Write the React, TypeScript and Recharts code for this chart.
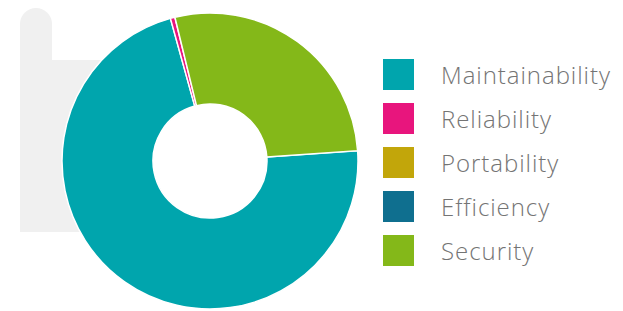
import { PieChart, Pie, Cell, Legend } from "recharts";

const categories = ["Maintainability", "Reliability", "Portability", "Efficiency", "Security"];
const values = [71.8, 0.5, 0, 0, 27.7];
const colors = ["#00a5ad", "#e8157d", "#c2a60a", "#0f6f8f", "#84b819"];

const data = categories.map((name, i) => ({ name, value: values[i] }));

function LegendList() {
  return (
    <ul style={{ listStyle: "none", margin: 0, padding: 0 }}>
      {categories.map((name, i) => (
        <li key={name} style={{ display: "flex", alignItems: "center", height: 44 }}>
          <span
            style={{
              display: "inline-block",
              width: 31,
              height: 31,
              background: colors[i],
              marginRight: 27,
            }}
          />
          <span
            style={{
              fontFamily: "'Open Sans', sans-serif",
              fontWeight: 300,
              fontSize: 24,
              letterSpacing: 0.95,
              color: "#747474",
              whiteSpace: "nowrap",
            }}
          >
            {name}
          </span>
        </li>
      ))}
    </ul>
  );
}

export default function App() {
  return (
    <div
      style={{
        position: "absolute",
        left: 0,
        top: 0,
        width: 623,
        height: 311,
        background: "#ffffff",
        overflow: "hidden",
      }}
    >
      {/* faint grey backdrop behind the donut */}
      <div
        style={{
          position: "absolute",
          left: 20,
          top: 8,
          width: 32,
          height: 80,
          background: "#f0f0f0",
          borderRadius: "16px 16px 0 0",
        }}
      />
      <div
        style={{
          position: "absolute",
          left: 20,
          top: 60,
          width: 90,
          height: 172,
          background: "#f0f0f0",
        }}
      />
      <PieChart width={623} height={311} style={{ position: "absolute", left: 0, top: 0 }}>
        <Pie
          data={data}
          dataKey="value"
          nameKey="name"
          cx={205}
          cy={156}
          innerRadius={57}
          outerRadius={148}
          startAngle={4}
          endAngle={-356}
          stroke="#ffffff"
          strokeWidth={1.5}
          isAnimationActive={false}
        >
          {data.map((d, i) => (
            <Cell key={d.name} fill={colors[i]} />
          ))}
        </Pie>
        <Legend
          layout="vertical"
          align="right"
          verticalAlign="top"
          wrapperStyle={{ left: 383, top: 52, width: 240 }}
          content={() => <LegendList />}
        />
      </PieChart>
    </div>
  );
}
